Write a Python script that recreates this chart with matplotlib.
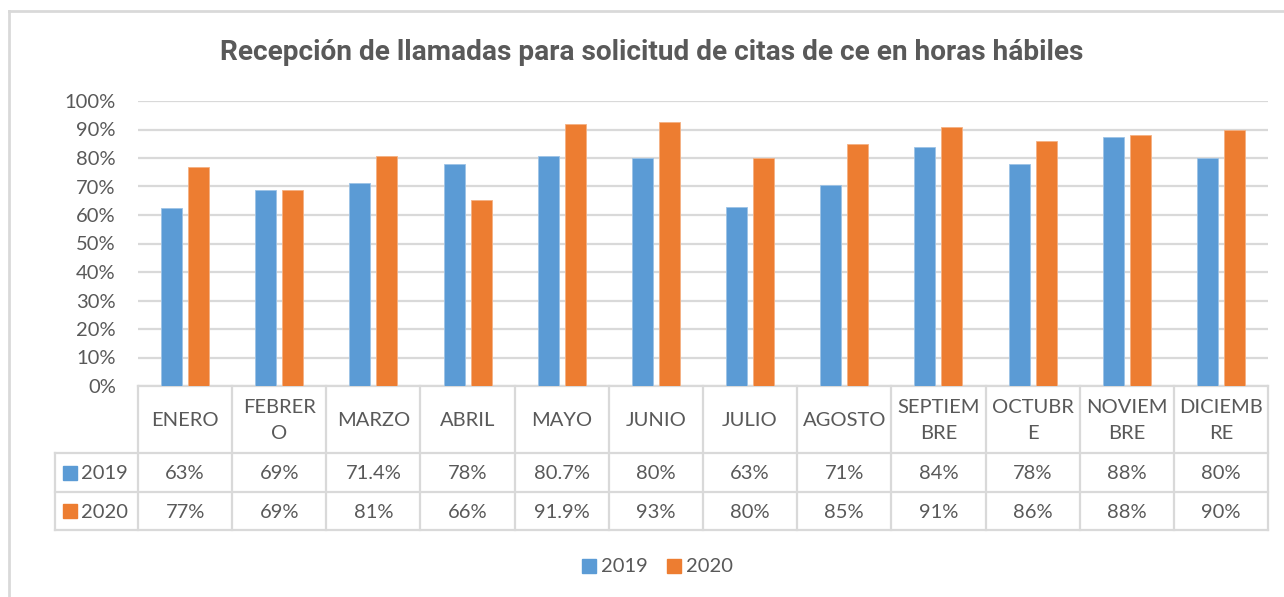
import numpy as np
import matplotlib
matplotlib.use("Agg")
import matplotlib.pyplot as plt
from matplotlib.transforms import blended_transform_factory
from matplotlib.patches import Rectangle
from matplotlib.lines import Line2D

# ============
#  DATA
# ============
months = ["ENERO", "FEBRERO", "MARZO", "ABRIL", "MAYO", "JUNIO", "JULIO",
          "AGOSTO", "SEPTIEMBRE", "OCTUBRE", "NOVIEMBRE", "DICIEMBRE"]
# wrapped the way Excel did it in the data table
month_labels = ["ENERO", "FEBRER\nO", "MARZO", "ABRIL", "MAYO", "JUNIO", "JULIO",
                "AGOSTO", "SEPTIEM\nBRE", "OCTUBR\nE", "NOVIEM\nBRE", "DICIEMB\nRE"]

vals_2019 = [0.623, 0.689, 0.714, 0.778, 0.807, 0.80, 0.627, 0.707, 0.837, 0.778, 0.873, 0.80]
vals_2020 = [0.768, 0.689, 0.807, 0.653, 0.919, 0.925, 0.80, 0.849, 0.908, 0.858, 0.88, 0.899]

txt_2019 = ["63%", "69%", "71.4%", "78%", "80.7%", "80%", "63%", "71%", "84%", "78%", "88%", "80%"]
txt_2020 = ["77%", "69%", "81%", "66%", "91.9%", "93%", "80%", "85%", "91%", "86%", "88%", "90%"]

series = ["2019", "2020"]
yticks = np.arange(0, 1.01, 0.1)

# ============
#  STYLE
# ============
W, H = 1284, 597
BLUE = "#5B9BD5"
ORANGE = "#ED7D31"
GRID = "#D9D9D9"
TXT = "#595959"
FONT = ["Lato", "DejaVu Sans"]
plt.rcParams["font.family"] = FONT


def fy(py):
    """pixel row (from top) -> figure fraction"""
    return 1 - py / H


def fx(px):
    return px / W


fig = plt.figure(figsize=(W / 100, H / 100), dpi=100)

# chart border (only left and top visible in the crop)
fig.add_artist(Line2D([fx(9), fx(9)], [fy(11), fy(600)], color=GRID, lw=2))
fig.add_artist(Line2D([fx(9), fx(1290)], [fy(11), fy(11)], color=GRID, lw=2))

# plot area
x_left, x_right, y_top, y_bot = 138, 1268, 101, 386
ax = fig.add_axes([fx(x_left), fy(y_bot), (x_right - x_left) / W, (y_bot - y_top) / H])

x = np.arange(len(months))
bw = 0.223
off = 0.1435
ax.bar(x - off, vals_2019, bw, color=BLUE, edgecolor="#9DC3E6", linewidth=0.6, zorder=3)
ax.bar(x + off, vals_2020, bw, color=ORANGE, edgecolor="#F4B183", linewidth=0.6, zorder=3)

ax.set_xlim(-0.5, len(months) - 0.5)
ax.set_ylim(0, 1.0)
ax.set_yticks(yticks)
ax.set_yticklabels([f"{int(round(t * 100))}%" for t in yticks], fontsize=14.5, color=TXT)
ax.tick_params(axis="y", length=0, pad=16)
ax.set_xticks([])
ax.yaxis.grid(True, color=GRID, lw=1.6, zorder=0)
for s in ax.spines.values():
    s.set_visible(False)

fig.text(fx(652), fy(53), "Recepción de llamadas para solicitud de citas de ce en horas hábiles",
         ha="center", va="center", fontsize=20.2, fontweight="bold", color=TXT,
         family=["Roboto", "DejaVu Sans"])

# ============
#  DATA TABLE
# ============
tr = blended_transform_factory(ax.transData, fig.transFigure)
row_hdr_l = 55
y_rows = [386, 453, 492, 530]
lkw = dict(color=GRID, lw=1.6, clip_on=False, transform=tr)
lkw_fig = dict(color=GRID, lw=1.6)

# horizontal lines
ax.plot([-0.5, len(months) - 0.5], [fy(y_rows[0])] * 2, **lkw)
for yy in y_rows[1:]:
    fig.add_artist(Line2D([fx(row_hdr_l), fx(x_right)], [fy(yy)] * 2, **lkw_fig))
# vertical lines
for k in range(len(months) + 1):
    ax.plot([k - 0.5, k - 0.5], [fy(y_rows[0]), fy(y_rows[3])], **lkw)
fig.add_artist(Line2D([fx(row_hdr_l)] * 2, [fy(y_rows[1]), fy(y_rows[3])], **lkw_fig))

for i, lab in enumerate(month_labels):
    ax.text(i, fy((y_rows[0] + y_rows[1]) / 2 + 1), lab, transform=tr, ha="center", va="center",
            fontsize=14.5, color=TXT, linespacing=1.7, clip_on=False)
    ax.text(i, fy((y_rows[1] + y_rows[2]) / 2 + 1), txt_2019[i], transform=tr, ha="center",
            va="center", fontsize=14.5, color=TXT, clip_on=False)
    ax.text(i, fy((y_rows[2] + y_rows[3]) / 2 + 1), txt_2020[i], transform=tr, ha="center",
            va="center", fontsize=14.5, color=TXT, clip_on=False)

for j, (name, col) in enumerate(zip(series, [BLUE, ORANGE])):
    yc = (y_rows[1 + j] + y_rows[2 + j]) / 2
    fig.add_artist(Rectangle((fx(63), fy(yc + 7)), 14 / W, 14 / H, color=col))
    fig.text(fx(81), fy(yc + 1), name, ha="left", va="center", fontsize=14.5, color=TXT)

# ============
#  LEGEND
# ============
leg_y = 566
for px, name, col in [(582, "2019", BLUE), (667, "2020", ORANGE)]:
    fig.add_artist(Rectangle((fx(px), fy(leg_y + 7)), 14 / W, 14 / H, color=col))
    fig.text(fx(px + 19), fy(leg_y), name, ha="left", va="center", fontsize=14.5, color=TXT)

fig.savefig("out.png", dpi=100)
